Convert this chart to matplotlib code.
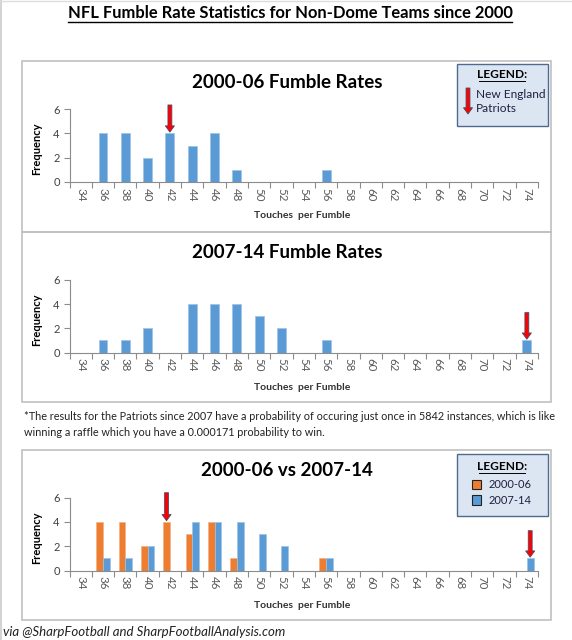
import numpy as np
import matplotlib
matplotlib.use("Agg")
import matplotlib.pyplot as plt
from matplotlib.patches import Rectangle, FancyArrowPatch
from matplotlib.lines import Line2D

plt.rcParams['font.family'] = ['Lato', 'DejaVu Sans']

# touches per fumble bins and team counts
bins = list(range(34, 76, 2))
rates_2000_06 = [0, 4, 4, 2, 4, 3, 4, 1, 0, 0, 0, 1, 0, 0, 0, 0, 0, 0, 0, 0, 0]
rates_2007_14 = [0, 1, 1, 2, 0, 4, 4, 4, 3, 2, 0, 1, 0, 0, 0, 0, 0, 0, 0, 0, 1]
patriots_2000_06 = 42
patriots_2007_14 = 74
series_names = ['2000-06', '2007-14']

W, H = 572, 640
BLUE = '#5b9bd5'
ORANGE = '#ed7d31'
GRID_GRAY = '#8c8c8c'
TXT_GRAY = '#595959'
ARROW_STYLE = 'simple,head_length=0.45,head_width=0.65,tail_width=0.28'


def fx(px):
    return px / W


def fy(py):
    return 1 - py / H


def add_box(x0, y0, x1, y1, fc='none', ec='#c0c0c0', lw=1.2):
    fig.add_artist(Rectangle((fx(x0), fy(y1)), fx(x1) - fx(x0), fy(y0) - fy(y1),
                             transform=fig.transFigure, fc=fc, ec=ec, lw=lw))


def underline(x0, x1, y, lw=0.9, color='black'):
    fig.add_artist(Line2D([fx(x0), fx(x1)], [fy(y), fy(y)], transform=fig.transFigure,
                          color=color, lw=lw))


def red_arrow(ax, x, top, tip):
    kw = dict(arrowstyle=ARROW_STYLE, fc='#ff0000', ec='#4a4a6a', lw=0.6,
              shrinkA=0, shrinkB=0, mutation_scale=10)
    ax.annotate('', xy=(x, tip), xytext=(x, top), arrowprops=kw, annotation_clip=False)


def make_axes(y_zero, y_six):
    ax = fig.add_axes([fx(69.5), fy(y_zero), fx(538) - fx(69.5), (y_zero - y_six) / H])
    idx = np.arange(len(bins))
    ax.set_xlim(-0.5, len(bins) - 0.5)
    ax.set_ylim(0, 6)
    ax.set_yticks([0, 2, 4, 6])
    ax.set_xticks(idx)
    ax.set_xticklabels([str(b) for b in bins], rotation=-90)
    ax.set_xticks(np.arange(-0.5, len(bins), 1), minor=True)
    ax.tick_params(axis='x', which='major', length=0, labelsize=8.3, labelcolor=TXT_GRAY, pad=4)
    ax.tick_params(axis='x', which='minor', length=4, color=GRID_GRAY, width=0.8)
    ax.tick_params(axis='y', length=4, color=GRID_GRAY, width=0.8, labelsize=8,
                   labelcolor='#404040', pad=3)
    for s in ['top', 'right']:
        ax.spines[s].set_visible(False)
    for s in ['left', 'bottom']:
        ax.spines[s].set_color(GRID_GRAY)
        ax.spines[s].set_linewidth(0.8)
    ax.patch.set_alpha(0)
    ax.set_xlabel('Touches  per Fumble', fontsize=7.5, fontweight='bold', color='#333333', labelpad=3)
    ax.set_ylabel('Frequency', fontsize=8, fontweight='bold', color='black', labelpad=8)
    return ax, idx


fig = plt.figure(figsize=(W / 100, H / 100), dpi=100)
fig.patch.set_facecolor('white')

# page edges
fig.add_artist(Line2D([fx(1), fx(1)], [0, 1], transform=fig.transFigure, color='#cccccc', lw=1.2))
fig.add_artist(Line2D([0, 1], [fy(0.5), fy(0.5)], transform=fig.transFigure, color='#dddddd', lw=1))

fig.text(fx(290), fy(13), 'NFL Fumble Rate Statistics for Non-Dome Teams since 2000',
         ha='center', va='center', fontsize=11.9, fontweight='bold')
underline(68, 512, 21.5, lw=1.0)

# panel frames
add_box(22, 61, 551, 232)
add_box(22, 232, 551, 402)
add_box(22, 450, 551, 620)

# --- panel 1
ax1, idx = make_axes(182, 109)
ax1.bar(idx, rates_2000_06, width=0.4, color=BLUE, edgecolor='#9dc3e6', lw=0.5)
ax1.xaxis.set_label_coords(0.497, -0.40)
ax1.yaxis.set_label_coords(-0.058, 0.45)
red_arrow(ax1, bins.index(patriots_2000_06), 6.33, 4.1)
fig.text(fx(287), fy(83), '2000-06 Fumble Rates', ha='center', va='center',
         fontsize=13.5, fontweight='bold')

add_box(457, 64, 548, 126, fc='#dce6f2', ec='#4f6a8f', lw=1)
fig.text(fx(502), fy(75), 'LEGEND:', ha='center', va='center', fontsize=8.6, fontweight='bold')
underline(479, 525, 81, lw=0.7)
fig.text(fx(476), fy(94), 'New England', ha='left', va='center', fontsize=8.6, color='#1f1f3f')
fig.text(fx(476), fy(108), 'Patriots', ha='left', va='center', fontsize=8.6, color='#1f1f3f')
fig.add_artist(FancyArrowPatch((fx(468), fy(88)), (fx(468), fy(114)), transform=fig.transFigure,
                               arrowstyle=ARROW_STYLE, mutation_scale=10, fc='#ff0000',
                               ec='#4a4a6a', lw=0.6, shrinkA=0, shrinkB=0, zorder=5))

# --- panel 2
ax2, idx = make_axes(352.5, 280)
ax2.bar(idx, rates_2007_14, width=0.4, color=BLUE, edgecolor='#9dc3e6', lw=0.5)
ax2.xaxis.set_label_coords(0.497, -0.42)
ax2.yaxis.set_label_coords(-0.058, 0.45)
red_arrow(ax2, bins.index(patriots_2007_14), 3.3, 1.1)
fig.text(fx(287), fy(253), '2007-14 Fumble Rates', ha='center', va='center',
         fontsize=13.5, fontweight='bold')

fig.text(fx(24), fy(417), '*The results for the Patriots since 2007 have a probability of occuring just '
         'once in 5842 instances, which is like', ha='left', va='center', fontsize=7.85, color='#222222')
fig.text(fx(24), fy(433), 'winning a raffle which you have a 0.000171 probability to win.',
         ha='left', va='center', fontsize=7.85, color='#222222')

# --- panel 3
ax3, idx = make_axes(570.5, 497.7)
w = 0.3
ax3.bar(idx - w / 2, rates_2000_06, width=w, color=ORANGE, edgecolor='#f4b183', lw=0.5)
ax3.bar(idx + w / 2, rates_2007_14, width=w, color=BLUE, edgecolor='#9dc3e6', lw=0.5)
ax3.xaxis.set_label_coords(0.497, -0.42)
ax3.yaxis.set_label_coords(-0.058, 0.45)
red_arrow(ax3, bins.index(patriots_2000_06) - w / 2, 6.41, 4.1)
red_arrow(ax3, bins.index(patriots_2007_14) + w / 2, 3.28, 1.1)
fig.text(fx(287), fy(471), '2000-06 vs 2007-14', ha='center', va='center',
         fontsize=13.5, fontweight='bold')

add_box(457, 454, 548, 516, fc='#dce6f2', ec='#4f6a8f', lw=1)
fig.text(fx(502), fy(467), 'LEGEND:', ha='center', va='center', fontsize=8.6, fontweight='bold')
underline(479, 525, 473, lw=0.7)
for name, col, yy in zip(series_names, [ORANGE, BLUE], [484, 500]):
    add_box(472, yy - 4.5, 481, yy + 4.5, fc=col, ec='#222222', lw=0.8)
    fig.text(fx(489), fy(yy), name, ha='left', va='center', fontsize=8, color='#1f1f3f')

fig.text(fx(3), fy(632), 'via @SharpFootball and SharpFootballAnalysis.com', ha='left', va='center',
         fontsize=9.5, style='italic', color='#222222')

fig.savefig('out.png', dpi=100)
